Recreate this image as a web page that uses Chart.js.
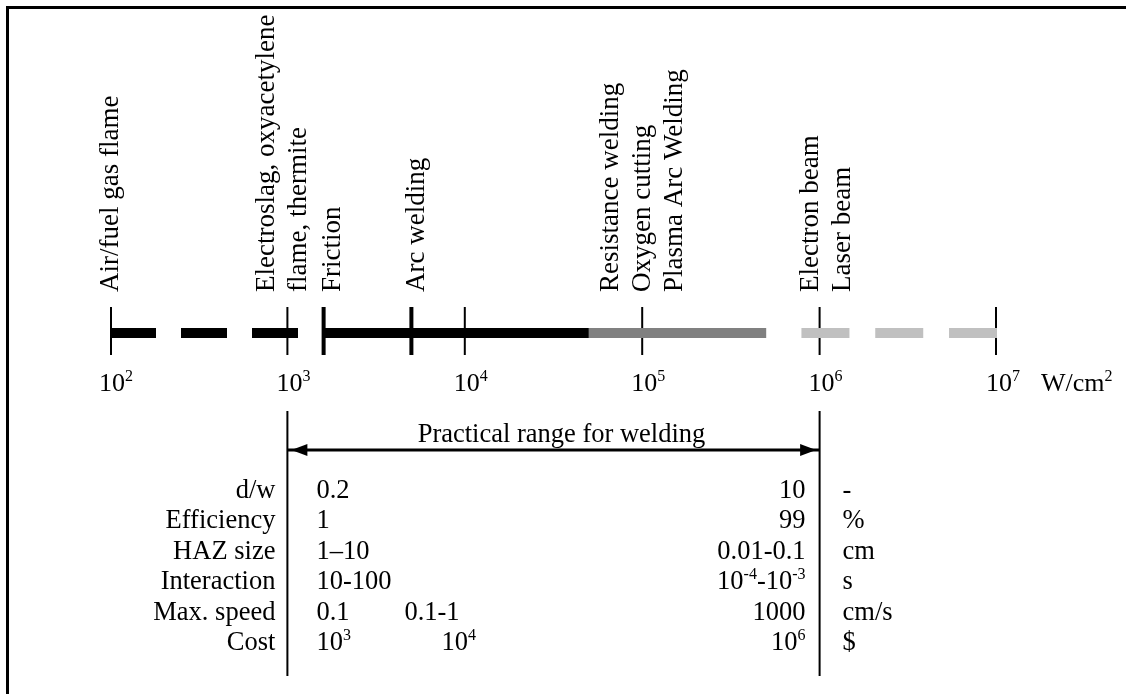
<!DOCTYPE html>
<html>
<head>
<meta charset="utf-8">
<title>Power density of welding heat sources</title>
<script src="https://cdn.jsdelivr.net/npm/chart.js@4.4.1/dist/chart.umd.min.js"></script>
<style>
  html, body { margin: 0; padding: 0; background: #fff; }
  #wrap { position: relative; width: 1126px; height: 694px; }
</style>
</head>
<body>
<div id="wrap"><canvas id="chart" width="1126" height="694"></canvas></div>
<script>
// ---------- data (power density, W/cm2) ----------
var decadeExps = [2, 3, 4, 5, 6, 7];                 // axis labels 10^n
var segStart   = [100, 1600, 50000, 790000];         // heat-source band pieces
var segEnd     = [1150, 50000, 500000, 10000000];
var thickMarks = [100, 1600, 5000, 10000000];        // range ends / process marks
var thinMarks  = [1000, 10000, 100000, 1000000];     // decade marks
var processAt  = [100, 1000, 1600, 5000, 100000, 1000000];
var processNames = [
  ["Air/fuel gas flame"],
  ["Electroslag, oxyacetylene", "flame, thermite"],
  ["Friction"],
  ["Arc welding"],
  ["Resistance welding", "Oxygen cutting", "Plasma Arc Welding"],
  ["Electron beam", "Laser beam"]
];
var practicalRange = [1000, 1000000];
var practicalText  = "Practical range for welding";
var unitText       = "W/cm^2";
var rowLabels  = ["d/w", "Efficiency", "HAZ size", "Interaction", "Max. speed", "Cost"];
var lowValues  = ["0.2", "1", "1\u201310", "10-100", "0.1", "10^3"];
var midValues  = ["", "", "", "", "0.1-1", "10^4"];
var highValues = ["10", "99", "0.01-0.1", "10^-4-10^-3", "1000", "10^6"];
var unitValues = ["-", "%", "cm", "s", "cm/s", "$"];

// ---------- styles / layout ----------
var SEG_COLOR = ["#000000", "#000000", "#808080", "#c0c0c0"];
var SEG_DASH  = [[46, 25], [], [], [48, 25.8]];
var LABEL_DX  = [8, -13, 16, 13, -24, -2];   // baseline offset of rotated labels
var MID_DX    = [0, 0, 0, 0, 117, 154];
var FONT = "'Liberation Serif', 'Times New Roman', serif";
var L = {
  bandY: 333, tickTop: 307, tickBottom: 355,
  labelBottom: 292, lineGap: 32,
  axisBase: 391,
  tableTop: 411, tableBottom: 676, arrowY: 450, practicalBase: 442,
  rowBase: 498, rowGap: 30.4
};

// ---------- rich text (superscripts) ----------
function richParts(s) {
  return s.split(/\^(-?\d)/).map(function (t, i) { return { t: t, sup: i % 2 === 1 }; })
    .filter(function (p) { return p.t.length; });
}
function richWidth(ctx, s, size) {
  var w = 0, sup = Math.round(size * 0.62);
  richParts(s).forEach(function (p) {
    ctx.font = (p.sup ? sup : size) + "px " + FONT;
    w += ctx.measureText(p.t).width;
  });
  return w;
}
function drawRich(ctx, s, x, y, align, size) {
  var sup = Math.round(size * 0.62), raise = size * 0.38;
  if (align === "right") x -= richWidth(ctx, s, size);
  ctx.textAlign = "left";
  richParts(s).forEach(function (p) {
    ctx.font = (p.sup ? sup : size) + "px " + FONT;
    ctx.fillText(p.t, x, p.sup ? y - raise : y);
    x += ctx.measureText(p.t).width;
  });
}

// ---------- datasets ----------
function line(x1, y1, x2, y2, color, width, dash) {
  return {
    data: [{ x: x1, y: y1 }, { x: x2, y: y2 }],
    showLine: true, pointRadius: 0, borderColor: color, borderWidth: width,
    borderDash: dash || [], borderCapStyle: "butt", tension: 0
  };
}
var datasets = [];
segStart.forEach(function (s, i) {
  datasets.push(line(s, L.bandY, segEnd[i], L.bandY, SEG_COLOR[i], 10, SEG_DASH[i]));
});
thinMarks.forEach(function (v) { datasets.push(line(v, L.tickTop, v, L.tickBottom, "#000", 2)); });
thickMarks.forEach(function (v) { datasets.push(line(v, L.tickTop, v, L.tickBottom, "#000", 4)); });
practicalRange.forEach(function (v) { datasets.push(line(v, L.tableTop, v, L.tableBottom, "#000", 2)); });
datasets.push(line(practicalRange[0], L.arrowY, practicalRange[1], L.arrowY, "#000", 3));

// ---------- drawing plugin ----------
var diagram = {
  id: "diagram",
  beforeDraw: function (chart) {
    var ctx = chart.ctx;
    ctx.save();
    ctx.fillStyle = "#fff";
    ctx.fillRect(0, 0, chart.width, chart.height);
    ctx.fillStyle = "#000";
    ctx.fillRect(6, 6, 3, chart.height - 6);   // frame
    ctx.fillRect(6, 6, chart.width - 6, 3);
    ctx.restore();
  },
  afterDraw: function (chart) {
    var ctx = chart.ctx, xs = chart.scales.x;
    function px(v) { return xs.getPixelForValue(v); }
    ctx.save();
    ctx.fillStyle = "#000";
    ctx.textBaseline = "alphabetic";

    // arrow heads
    var a = px(practicalRange[0]) + 4, b = px(practicalRange[1]) - 3.5;
    ctx.beginPath();
    ctx.moveTo(a, L.arrowY); ctx.lineTo(a + 16, L.arrowY - 6); ctx.lineTo(a + 16, L.arrowY + 6);
    ctx.closePath(); ctx.fill();
    ctx.beginPath();
    ctx.moveTo(b, L.arrowY); ctx.lineTo(b - 16, L.arrowY - 6); ctx.lineTo(b - 16, L.arrowY + 6);
    ctx.closePath(); ctx.fill();

    // axis labels
    decadeExps.forEach(function (e) {
      drawRich(ctx, "10^" + e, px(Math.pow(10, e)) - 11, L.axisBase, "left", 26);
    });
    drawRich(ctx, unitText, px(1e7) + 44, L.axisBase, "left", 26);

    // rotated process labels
    ctx.font = "27px " + FONT;
    processNames.forEach(function (lines, i) {
      lines.forEach(function (t, j) {
        ctx.save();
        ctx.translate(px(processAt[i]) + LABEL_DX[i] + j * L.lineGap, L.labelBottom);
        ctx.rotate(-Math.PI / 2);
        ctx.textAlign = "left";
        ctx.fillText(t, 0, 0);
        ctx.restore();
      });
    });

    // practical range caption
    ctx.font = "26.5px " + FONT;
    ctx.textAlign = "center";
    ctx.fillText(practicalText, (px(practicalRange[0]) + px(practicalRange[1])) / 2 + 8, L.practicalBase);

    // property table
    var x0 = px(practicalRange[0]), x1 = px(practicalRange[1]);
    rowLabels.forEach(function (lab, i) {
      var y = L.rowBase + i * L.rowGap;
      drawRich(ctx, lab, x0 - 12, y, "right", 26.5);
      drawRich(ctx, lowValues[i], x0 + 29, y, "left", 26.5);
      if (midValues[i]) drawRich(ctx, midValues[i], x0 + MID_DX[i], y, "left", 26.5);
      drawRich(ctx, highValues[i], x1 - 14, y, "right", 26.5);
      drawRich(ctx, unitValues[i], x1 + 23, y, "left", 26.5);
    });
    ctx.restore();
  }
};

new Chart(document.getElementById("chart").getContext("2d"), {
  type: "scatter",
  data: { datasets: datasets },
  options: {
    responsive: false, animation: false, events: [], devicePixelRatio: 1,
    layout: { padding: { left: 110, right: 129, top: 0, bottom: 0 } },
    plugins: { legend: { display: false }, tooltip: { enabled: false } },
    scales: {
      x: { type: "logarithmic", min: 100, max: 10000000, display: false },
      y: { type: "linear", min: 0, max: 694, reverse: true, display: false }
    }
  },
  plugins: [diagram]
});
</script>
</body>
</html>
